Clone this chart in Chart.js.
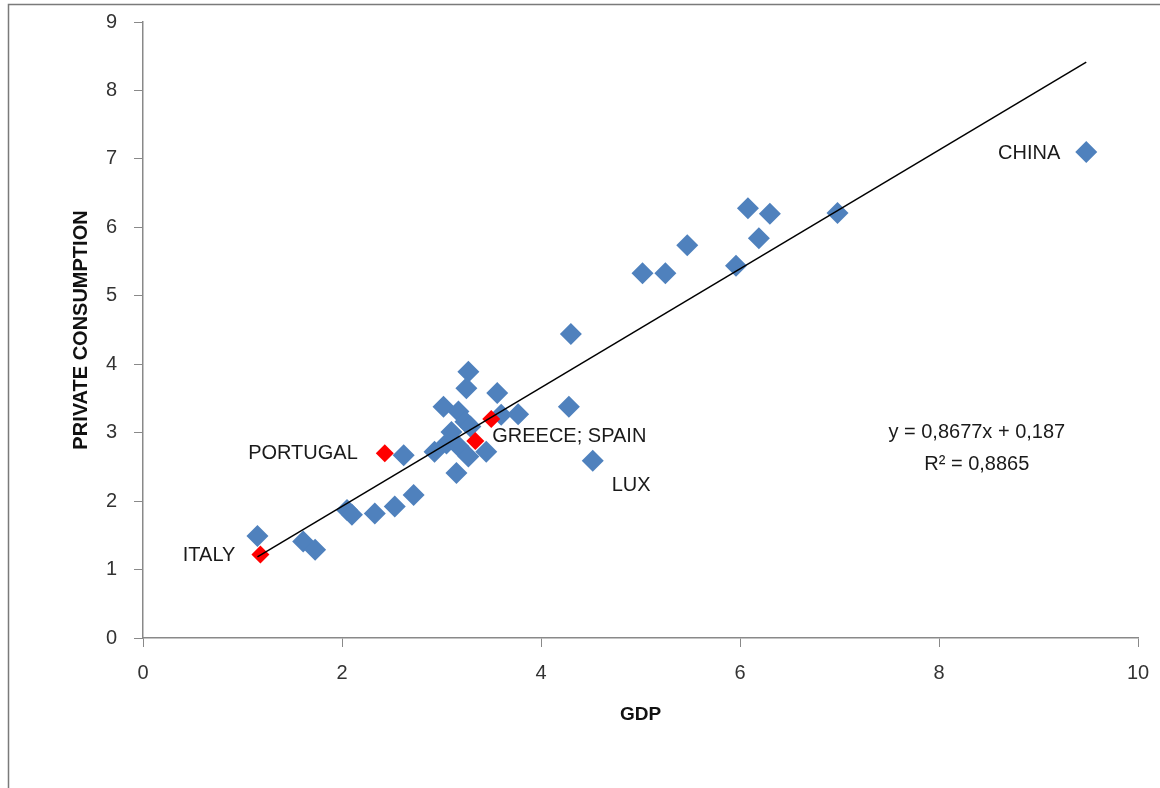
<!DOCTYPE html>
<html>
<head>
<meta charset="utf-8">
<script src="https://cdn.jsdelivr.net/npm/chart.js@4.4.1/dist/chart.umd.min.js"></script>
<style>
  body { margin: 0; background: #fff; overflow: hidden; }
  #wrap { position: relative; width: 1160px; height: 788px; }
</style>
</head>
<body>
<div id="wrap"><canvas id="scatterChart"></canvas></div>
<script>
// Pull out information
var gdp = [1.15, 1.61, 1.73, 2.05, 2.10, 2.33, 2.53, 2.72, 2.62, 2.93,
           3.27, 3.25, 3.56, 3.02, 3.17, 3.24, 3.10, 3.29, 3.05, 3.17,
           3.27, 3.45, 3.15, 3.60, 3.77, 4.28, 4.30, 4.52,
           5.02, 5.25, 5.47, 5.96, 6.08, 6.19, 6.30, 6.98, 9.48];
var consumption = [1.49, 1.41, 1.29, 1.87, 1.80, 1.82, 1.92, 2.09, 2.67, 2.72,
                   3.89, 3.65, 3.58, 3.38, 3.31, 3.16, 3.01, 3.09, 2.84, 2.80,
                   2.65, 2.72, 2.41, 3.26, 3.27, 3.38, 4.44, 2.59,
                   5.33, 5.33, 5.74, 5.44, 6.28, 5.84, 6.20, 6.21, 7.10];

// highlighted countries (red)
var redNames = ["ITALY", "PORTUGAL", "GREECE", "SPAIN"];
var redGdp = [1.18, 2.43, 3.34, 3.50];
var redConsumption = [1.22, 2.70, 2.88, 3.20];

// regression as printed on the chart
var slope = 0.8677;
var intercept = 0.187;
var equationText = ["y = 0,8677x + 0,187", "R\u00b2 = 0,8865"];

var xTicks = [0, 2, 4, 6, 8, 10];
var yTicks = [0, 1, 2, 3, 4, 5, 6, 7, 8, 9];

function toPoints(xs, ys) {
    var pts = [];
    for (var i = 0; i < xs.length; i++) {
        pts.push({x: xs[i], y: ys[i]});
    }
    return pts;
}

// trend line spans the data range
var allX = gdp.concat(redGdp);
var xMin = Math.min.apply(null, allX);
var xMax = Math.max.apply(null, allX);
var trendPoints = [
    {x: xMin, y: slope * xMin + intercept},
    {x: xMax, y: slope * xMax + intercept}
];

var axisGray = '#898989';
var textFont = '"Liberation Sans", Arial, sans-serif';

// text labels next to points, plus the equation box
var annotations = {
    id: 'annotations',
    afterDatasetsDraw: function(chart) {
        var ctx = chart.ctx;
        var xs = chart.scales.x, ys = chart.scales.y;
        ctx.save();
        ctx.font = '20px ' + textFont;
        ctx.fillStyle = '#1a1a1a';
        ctx.textBaseline = 'middle';

        // CHINA is the last blue point
        var ci = gdp.length - 1;
        ctx.textAlign = 'right';
        ctx.fillText('CHINA', xs.getPixelForValue(gdp[ci]) - 26, ys.getPixelForValue(consumption[ci]) + 1);

        // ITALY, PORTUGAL to the left
        ctx.fillText(redNames[0], xs.getPixelForValue(redGdp[0]) - 25, ys.getPixelForValue(redConsumption[0]) + 1);
        ctx.fillText(redNames[1], xs.getPixelForValue(redGdp[1]) - 27, ys.getPixelForValue(redConsumption[1]));

        // GREECE; SPAIN to the right
        ctx.textAlign = 'left';
        ctx.fillText(redNames[2] + '; ' + redNames[3], xs.getPixelForValue(redGdp[3]) + 1, ys.getPixelForValue(redConsumption[2]) - 4);

        // LUX
        var li = 27;
        ctx.fillText('LUX', xs.getPixelForValue(gdp[li]) + 19, ys.getPixelForValue(consumption[li]) + 25);

        // equation
        ctx.textAlign = 'center';
        ctx.fillText(equationText[0], xs.getPixelForValue(8.38), ys.getPixelForValue(3.0));
        ctx.fillText(equationText[1], xs.getPixelForValue(8.38), ys.getPixelForValue(2.53));

        // outer frame of the chart object
        ctx.strokeStyle = '#7a7a7a';
        ctx.lineWidth = 1.5;
        ctx.strokeRect(8.5, 4.5, 1300, 1000);
        ctx.restore();
    }
};

var scatterCtx = document.getElementById('scatterChart').getContext('2d');
var scatterChart = new Chart(scatterCtx, {
    type: 'scatter',
    data: {
        datasets: [
            {
                label: 'trend',
                type: 'line',
                data: trendPoints,
                borderColor: '#000000',
                borderWidth: 1.5,
                pointRadius: 0,
                fill: false,
                order: 0
            },
            {
                label: 'highlight',
                data: toPoints(redGdp, redConsumption),
                pointStyle: 'rectRot',
                pointRadius: 9,
                backgroundColor: '#ff0000',
                borderColor: '#ff0000',
                borderWidth: 0,
                order: 1
            },
            {
                label: 'countries',
                data: toPoints(gdp, consumption),
                pointStyle: 'rectRot',
                pointRadius: 11,
                backgroundColor: '#4f81bd',
                borderColor: '#4f81bd',
                borderWidth: 0,
                order: 2
            }
        ]
    },
    options: {
        responsive: true,
        maintainAspectRatio: false,
        animation: false,
        layout: { padding: { top: 22, right: 22, left: 0, bottom: 0 } },
        plugins: {
            legend: { display: false },
            tooltip: { enabled: false }
        },
        scales: {
            x: {
                type: 'linear',
                min: 0,
                max: 10,
                afterBuildTicks: function(scale) {
                    scale.ticks = xTicks.map(function(v) { return {value: v}; });
                },
                afterFit: function(scale) {
                    scale.height = 150;
                    scale.paddingLeft = 0;
                    scale.paddingRight = 0;
                },
                grid: { drawOnChartArea: false, tickLength: 9, color: axisGray },
                border: { color: axisGray, width: 1.5 },
                ticks: {
                    padding: 14,
                    color: '#333333',
                    font: { family: textFont, size: 20 }
                },
                title: {
                    display: true,
                    text: 'GDP',
                    color: '#111111',
                    font: { family: textFont, size: 19, weight: 'bold' },
                    padding: { top: 0, bottom: 62 }
                }
            },
            y: {
                type: 'linear',
                min: 0,
                max: 9,
                afterBuildTicks: function(scale) {
                    scale.ticks = yTicks.map(function(v) { return {value: v}; });
                },
                afterFit: function(scale) {
                    scale.width = 143;
                    scale.paddingTop = 0;
                    scale.paddingBottom = 0;
                },
                grid: { drawOnChartArea: false, tickLength: 9, color: axisGray },
                border: { color: axisGray, width: 1.5 },
                ticks: {
                    padding: 17,
                    color: '#333333',
                    font: { family: textFont, size: 20 }
                },
                title: {
                    display: true,
                    text: 'PRIVATE CONSUMPTION',
                    color: '#111111',
                    font: { family: textFont, size: 20, weight: 'bold' },
                    padding: { top: 69, bottom: 0 }
                }
            }
        }
    },
    plugins: [annotations]
});
</script>
</body>
</html>
